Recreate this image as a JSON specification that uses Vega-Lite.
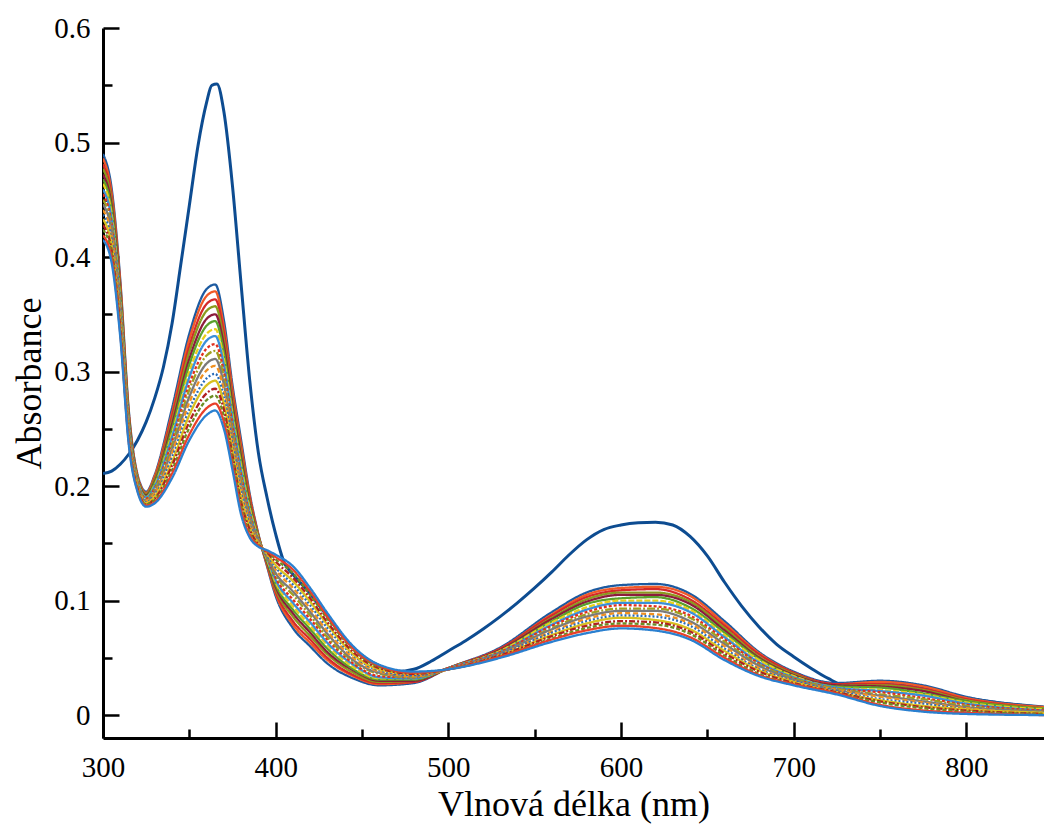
{
"$schema": "https://vega.github.io/schema/vega-lite/v6.json",
"width": 941, "height": 710,
"autosize": {"type": "none"},
"padding": {"left": 103, "top": 28, "right": 0, "bottom": 89},
"background": "white",
"config": {"view": {"stroke": null}, "font": "Liberation Serif"},
"datasets": {
"main": [
{"w":300,"a":0.211},{"w":305,"a":0.213},{"w":310,"a":0.219},{"w":315,"a":0.228},{"w":320,"a":0.240},{"w":325,"a":0.256},{"w":330,"a":0.277},{"w":335,"a":0.304},{"w":340,"a":0.342},{"w":345,"a":0.393},{"w":350,"a":0.445},{"w":355,"a":0.497},{"w":360,"a":0.535},{"w":363,"a":0.550},{"w":366,"a":0.551},{"w":370,"a":0.527},{"w":375,"a":0.462},{"w":380,"a":0.376},{"w":385,"a":0.292},{"w":390,"a":0.229},{"w":395,"a":0.190},{"w":400,"a":0.158},{"w":405,"a":0.133},{"w":410,"a":0.123},{"w":420,"a":0.106},{"w":430,"a":0.086},{"w":440,"a":0.067},{"w":450,"a":0.052},{"w":460,"a":0.043},{"w":470,"a":0.038},{"w":480,"a":0.040},{"w":490,"a":0.047},{"w":500,"a":0.056},{"w":510,"a":0.065},{"w":520,"a":0.075},{"w":530,"a":0.086},{"w":540,"a":0.098},{"w":550,"a":0.111},{"w":560,"a":0.125},{"w":570,"a":0.140},{"w":580,"a":0.153},{"w":590,"a":0.162},{"w":600,"a":0.166},{"w":610,"a":0.168},{"w":620,"a":0.1685},{"w":630,"a":0.166},{"w":640,"a":0.156},{"w":650,"a":0.139},{"w":660,"a":0.116},{"w":670,"a":0.095},{"w":680,"a":0.077},{"w":690,"a":0.062},{"w":700,"a":0.051},{"w":710,"a":0.041},{"w":720,"a":0.032},{"w":730,"a":0.026},{"w":750,"a":0.027},{"w":775,"a":0.024},{"w":800,"a":0.015},{"w":845,"a":0.007}
],
"band": [
{"s":0,"w":300,"a":0.490},{"s":0,"w":305,"a":0.460},{"s":0,"w":310,"a":0.380},{"s":0,"w":315,"a":0.265},{"s":0,"w":320,"a":0.210},{"s":0,"w":325,"a":0.195},{"s":0,"w":330,"a":0.210},{"s":0,"w":340,"a":0.268},{"s":0,"w":350,"a":0.333},{"s":0,"w":360,"a":0.372},{"s":0,"w":365,"a":0.376},{"s":0,"w":370,"a":0.345},{"s":0,"w":375,"a":0.288},{"s":0,"w":380,"a":0.240},{"s":0,"w":385,"a":0.193},{"s":0,"w":390,"a":0.158},{"s":0,"w":395,"a":0.130},{"s":0,"w":400,"a":0.104},{"s":0,"w":410,"a":0.076},{"s":0,"w":420,"a":0.060},{"s":0,"w":430,"a":0.045},{"s":0,"w":445,"a":0.032},{"s":0,"w":460,"a":0.026},{"s":0,"w":480,"a":0.028},{"s":0,"w":500,"a":0.041},{"s":0,"w":530,"a":0.059},{"s":0,"w":560,"a":0.090},{"s":0,"w":580,"a":0.107},{"s":0,"w":600,"a":0.1135},{"s":0,"w":620,"a":0.1145},{"s":0,"w":640,"a":0.106},{"s":0,"w":660,"a":0.082},{"s":0,"w":680,"a":0.055},{"s":0,"w":700,"a":0.038},{"s":0,"w":725,"a":0.028},{"s":0,"w":750,"a":0.030},{"s":0,"w":775,"a":0.026},{"s":0,"w":800,"a":0.016},{"s":0,"w":845,"a":0.007},
{"s":1,"w":300,"a":0.486},{"s":1,"w":305,"a":0.456},{"s":1,"w":310,"a":0.377},{"s":1,"w":315,"a":0.263},{"s":1,"w":320,"a":0.209},{"s":1,"w":325,"a":0.194},{"s":1,"w":330,"a":0.209},{"s":1,"w":340,"a":0.264},{"s":1,"w":350,"a":0.328},{"s":1,"w":360,"a":0.366},{"s":1,"w":365,"a":0.370},{"s":1,"w":370,"a":0.339},{"s":1,"w":375,"a":0.284},{"s":1,"w":380,"a":0.236},{"s":1,"w":385,"a":0.191},{"s":1,"w":390,"a":0.157},{"s":1,"w":395,"a":0.131},{"s":1,"w":400,"a":0.106},{"s":1,"w":410,"a":0.079},{"s":1,"w":420,"a":0.063},{"s":1,"w":430,"a":0.048},{"s":1,"w":445,"a":0.034},{"s":1,"w":460,"a":0.027},{"s":1,"w":480,"a":0.029},{"s":1,"w":500,"a":0.041},{"s":1,"w":530,"a":0.058},{"s":1,"w":560,"a":0.088},{"s":1,"w":580,"a":0.105},{"s":1,"w":600,"a":0.111},{"s":1,"w":620,"a":0.112},{"s":1,"w":640,"a":0.104},{"s":1,"w":660,"a":0.080},{"s":1,"w":680,"a":0.054},{"s":1,"w":700,"a":0.037},{"s":1,"w":725,"a":0.027},{"s":1,"w":750,"a":0.029},{"s":1,"w":775,"a":0.025},{"s":1,"w":800,"a":0.015},{"s":1,"w":845,"a":0.007},
{"s":2,"w":300,"a":0.481},{"s":2,"w":305,"a":0.452},{"s":2,"w":310,"a":0.374},{"s":2,"w":315,"a":0.261},{"s":2,"w":320,"a":0.208},{"s":2,"w":325,"a":0.193},{"s":2,"w":330,"a":0.207},{"s":2,"w":340,"a":0.261},{"s":2,"w":350,"a":0.322},{"s":2,"w":360,"a":0.359},{"s":2,"w":365,"a":0.363},{"s":2,"w":370,"a":0.334},{"s":2,"w":375,"a":0.279},{"s":2,"w":380,"a":0.232},{"s":2,"w":385,"a":0.189},{"s":2,"w":390,"a":0.157},{"s":2,"w":395,"a":0.132},{"s":2,"w":400,"a":0.108},{"s":2,"w":410,"a":0.082},{"s":2,"w":420,"a":0.066},{"s":2,"w":430,"a":0.050},{"s":2,"w":445,"a":0.035},{"s":2,"w":460,"a":0.028},{"s":2,"w":480,"a":0.029},{"s":2,"w":500,"a":0.041},{"s":2,"w":530,"a":0.058},{"s":2,"w":560,"a":0.087},{"s":2,"w":580,"a":0.103},{"s":2,"w":600,"a":0.109},{"s":2,"w":620,"a":0.110},{"s":2,"w":640,"a":0.101},{"s":2,"w":660,"a":0.078},{"s":2,"w":680,"a":0.053},{"s":2,"w":700,"a":0.037},{"s":2,"w":725,"a":0.027},{"s":2,"w":750,"a":0.027},{"s":2,"w":775,"a":0.023},{"s":2,"w":800,"a":0.014},{"s":2,"w":845,"a":0.006},
{"s":3,"w":300,"a":0.477},{"s":3,"w":305,"a":0.449},{"s":3,"w":310,"a":0.371},{"s":3,"w":315,"a":0.260},{"s":3,"w":320,"a":0.207},{"s":3,"w":325,"a":0.193},{"s":3,"w":330,"a":0.206},{"s":3,"w":340,"a":0.257},{"s":3,"w":350,"a":0.317},{"s":3,"w":360,"a":0.353},{"s":3,"w":365,"a":0.357},{"s":3,"w":370,"a":0.328},{"s":3,"w":375,"a":0.275},{"s":3,"w":380,"a":0.229},{"s":3,"w":385,"a":0.186},{"s":3,"w":390,"a":0.156},{"s":3,"w":395,"a":0.133},{"s":3,"w":400,"a":0.110},{"s":3,"w":410,"a":0.086},{"s":3,"w":420,"a":0.069},{"s":3,"w":430,"a":0.053},{"s":3,"w":445,"a":0.037},{"s":3,"w":460,"a":0.029},{"s":3,"w":480,"a":0.030},{"s":3,"w":500,"a":0.041},{"s":3,"w":530,"a":0.057},{"s":3,"w":560,"a":0.085},{"s":3,"w":580,"a":0.101},{"s":3,"w":600,"a":0.107},{"s":3,"w":620,"a":0.107},{"s":3,"w":640,"a":0.099},{"s":3,"w":660,"a":0.076},{"s":3,"w":680,"a":0.051},{"s":3,"w":700,"a":0.036},{"s":3,"w":725,"a":0.026},{"s":3,"w":750,"a":0.026},{"s":3,"w":775,"a":0.022},{"s":3,"w":800,"a":0.013},{"s":3,"w":845,"a":0.006},
{"s":4,"w":300,"a":0.472},{"s":4,"w":305,"a":0.445},{"s":4,"w":310,"a":0.368},{"s":4,"w":315,"a":0.258},{"s":4,"w":320,"a":0.206},{"s":4,"w":325,"a":0.192},{"s":4,"w":330,"a":0.204},{"s":4,"w":340,"a":0.254},{"s":4,"w":350,"a":0.311},{"s":4,"w":360,"a":0.346},{"s":4,"w":365,"a":0.350},{"s":4,"w":370,"a":0.323},{"s":4,"w":375,"a":0.271},{"s":4,"w":380,"a":0.225},{"s":4,"w":385,"a":0.184},{"s":4,"w":390,"a":0.155},{"s":4,"w":395,"a":0.134},{"s":4,"w":400,"a":0.112},{"s":4,"w":410,"a":0.089},{"s":4,"w":420,"a":0.072},{"s":4,"w":430,"a":0.055},{"s":4,"w":445,"a":0.039},{"s":4,"w":460,"a":0.030},{"s":4,"w":480,"a":0.030},{"s":4,"w":500,"a":0.041},{"s":4,"w":530,"a":0.057},{"s":4,"w":560,"a":0.084},{"s":4,"w":580,"a":0.099},{"s":4,"w":600,"a":0.105},{"s":4,"w":620,"a":0.105},{"s":4,"w":640,"a":0.097},{"s":4,"w":660,"a":0.074},{"s":4,"w":680,"a":0.050},{"s":4,"w":700,"a":0.035},{"s":4,"w":725,"a":0.026},{"s":4,"w":750,"a":0.025},{"s":4,"w":775,"a":0.021},{"s":4,"w":800,"a":0.012},{"s":4,"w":845,"a":0.005},
{"s":5,"w":300,"a":0.468},{"s":5,"w":305,"a":0.441},{"s":5,"w":310,"a":0.365},{"s":5,"w":315,"a":0.256},{"s":5,"w":320,"a":0.206},{"s":5,"w":325,"a":0.191},{"s":5,"w":330,"a":0.203},{"s":5,"w":340,"a":0.250},{"s":5,"w":350,"a":0.306},{"s":5,"w":360,"a":0.340},{"s":5,"w":365,"a":0.344},{"s":5,"w":370,"a":0.317},{"s":5,"w":375,"a":0.266},{"s":5,"w":380,"a":0.221},{"s":5,"w":385,"a":0.182},{"s":5,"w":390,"a":0.155},{"s":5,"w":395,"a":0.135},{"s":5,"w":400,"a":0.114},{"s":5,"w":410,"a":0.092},{"s":5,"w":420,"a":0.075},{"s":5,"w":430,"a":0.058},{"s":5,"w":445,"a":0.040},{"s":5,"w":460,"a":0.031},{"s":5,"w":480,"a":0.031},{"s":5,"w":500,"a":0.041},{"s":5,"w":530,"a":0.056},{"s":5,"w":560,"a":0.082},{"s":5,"w":580,"a":0.097},{"s":5,"w":600,"a":0.102},{"s":5,"w":620,"a":0.103},{"s":5,"w":640,"a":0.094},{"s":5,"w":660,"a":0.072},{"s":5,"w":680,"a":0.049},{"s":5,"w":700,"a":0.034},{"s":5,"w":725,"a":0.025},{"s":5,"w":750,"a":0.024},{"s":5,"w":775,"a":0.019},{"s":5,"w":800,"a":0.012},{"s":5,"w":845,"a":0.005},
{"s":6,"w":300,"a":0.464},{"s":6,"w":305,"a":0.437},{"s":6,"w":310,"a":0.362},{"s":6,"w":315,"a":0.254},{"s":6,"w":320,"a":0.205},{"s":6,"w":325,"a":0.190},{"s":6,"w":330,"a":0.201},{"s":6,"w":340,"a":0.246},{"s":6,"w":350,"a":0.300},{"s":6,"w":360,"a":0.333},{"s":6,"w":365,"a":0.337},{"s":6,"w":370,"a":0.311},{"s":6,"w":375,"a":0.262},{"s":6,"w":380,"a":0.217},{"s":6,"w":385,"a":0.180},{"s":6,"w":390,"a":0.154},{"s":6,"w":395,"a":0.136},{"s":6,"w":400,"a":0.116},{"s":6,"w":410,"a":0.095},{"s":6,"w":420,"a":0.078},{"s":6,"w":430,"a":0.061},{"s":6,"w":445,"a":0.042},{"s":6,"w":460,"a":0.032},{"s":6,"w":480,"a":0.032},{"s":6,"w":500,"a":0.041},{"s":6,"w":530,"a":0.056},{"s":6,"w":560,"a":0.081},{"s":6,"w":580,"a":0.094},{"s":6,"w":600,"a":0.100},{"s":6,"w":620,"a":0.100},{"s":6,"w":640,"a":0.092},{"s":6,"w":660,"a":0.070},{"s":6,"w":680,"a":0.048},{"s":6,"w":700,"a":0.034},{"s":6,"w":725,"a":0.024},{"s":6,"w":750,"a":0.022},{"s":6,"w":775,"a":0.018},{"s":6,"w":800,"a":0.011},{"s":6,"w":845,"a":0.005},
{"s":7,"w":300,"a":0.459},{"s":7,"w":305,"a":0.433},{"s":7,"w":310,"a":0.359},{"s":7,"w":315,"a":0.253},{"s":7,"w":320,"a":0.204},{"s":7,"w":325,"a":0.190},{"s":7,"w":330,"a":0.200},{"s":7,"w":340,"a":0.243},{"s":7,"w":350,"a":0.295},{"s":7,"w":360,"a":0.327},{"s":7,"w":365,"a":0.331},{"s":7,"w":370,"a":0.306},{"s":7,"w":375,"a":0.258},{"s":7,"w":380,"a":0.213},{"s":7,"w":385,"a":0.177},{"s":7,"w":390,"a":0.153},{"s":7,"w":395,"a":0.137},{"s":7,"w":400,"a":0.118},{"s":7,"w":410,"a":0.098},{"s":7,"w":420,"a":0.081},{"s":7,"w":430,"a":0.063},{"s":7,"w":445,"a":0.044},{"s":7,"w":460,"a":0.033},{"s":7,"w":480,"a":0.032},{"s":7,"w":500,"a":0.041},{"s":7,"w":530,"a":0.055},{"s":7,"w":560,"a":0.079},{"s":7,"w":580,"a":0.092},{"s":7,"w":600,"a":0.098},{"s":7,"w":620,"a":0.098},{"s":7,"w":640,"a":0.090},{"s":7,"w":660,"a":0.068},{"s":7,"w":680,"a":0.046},{"s":7,"w":700,"a":0.033},{"s":7,"w":725,"a":0.024},{"s":7,"w":750,"a":0.021},{"s":7,"w":775,"a":0.017},{"s":7,"w":800,"a":0.010},{"s":7,"w":845,"a":0.004},
{"s":8,"w":300,"a":0.455},{"s":8,"w":305,"a":0.429},{"s":8,"w":310,"a":0.356},{"s":8,"w":315,"a":0.251},{"s":8,"w":320,"a":0.203},{"s":8,"w":325,"a":0.189},{"s":8,"w":330,"a":0.198},{"s":8,"w":340,"a":0.239},{"s":8,"w":350,"a":0.289},{"s":8,"w":360,"a":0.320},{"s":8,"w":365,"a":0.324},{"s":8,"w":370,"a":0.300},{"s":8,"w":375,"a":0.253},{"s":8,"w":380,"a":0.209},{"s":8,"w":385,"a":0.175},{"s":8,"w":390,"a":0.153},{"s":8,"w":395,"a":0.138},{"s":8,"w":400,"a":0.120},{"s":8,"w":410,"a":0.101},{"s":8,"w":420,"a":0.084},{"s":8,"w":430,"a":0.066},{"s":8,"w":445,"a":0.045},{"s":8,"w":460,"a":0.034},{"s":8,"w":480,"a":0.033},{"s":8,"w":500,"a":0.041},{"s":8,"w":530,"a":0.055},{"s":8,"w":560,"a":0.078},{"s":8,"w":580,"a":0.090},{"s":8,"w":600,"a":0.096},{"s":8,"w":620,"a":0.095},{"s":8,"w":640,"a":0.087},{"s":8,"w":660,"a":0.066},{"s":8,"w":680,"a":0.045},{"s":8,"w":700,"a":0.032},{"s":8,"w":725,"a":0.023},{"s":8,"w":750,"a":0.020},{"s":8,"w":775,"a":0.015},{"s":8,"w":800,"a":0.009},{"s":8,"w":845,"a":0.004},
{"s":9,"w":300,"a":0.450},{"s":9,"w":305,"a":0.426},{"s":9,"w":310,"a":0.354},{"s":9,"w":315,"a":0.249},{"s":9,"w":320,"a":0.202},{"s":9,"w":325,"a":0.188},{"s":9,"w":330,"a":0.197},{"s":9,"w":340,"a":0.236},{"s":9,"w":350,"a":0.284},{"s":9,"w":360,"a":0.314},{"s":9,"w":365,"a":0.318},{"s":9,"w":370,"a":0.295},{"s":9,"w":375,"a":0.249},{"s":9,"w":380,"a":0.206},{"s":9,"w":385,"a":0.173},{"s":9,"w":390,"a":0.152},{"s":9,"w":395,"a":0.138},{"s":9,"w":400,"a":0.122},{"s":9,"w":410,"a":0.105},{"s":9,"w":420,"a":0.087},{"s":9,"w":430,"a":0.068},{"s":9,"w":445,"a":0.047},{"s":9,"w":460,"a":0.036},{"s":9,"w":480,"a":0.033},{"s":9,"w":500,"a":0.040},{"s":9,"w":530,"a":0.054},{"s":9,"w":560,"a":0.076},{"s":9,"w":580,"a":0.088},{"s":9,"w":600,"a":0.093},{"s":9,"w":620,"a":0.093},{"s":9,"w":640,"a":0.085},{"s":9,"w":660,"a":0.064},{"s":9,"w":680,"a":0.044},{"s":9,"w":700,"a":0.032},{"s":9,"w":725,"a":0.023},{"s":9,"w":750,"a":0.018},{"s":9,"w":775,"a":0.014},{"s":9,"w":800,"a":0.008},{"s":9,"w":845,"a":0.003},
{"s":10,"w":300,"a":0.446},{"s":10,"w":305,"a":0.422},{"s":10,"w":310,"a":0.351},{"s":10,"w":315,"a":0.247},{"s":10,"w":320,"a":0.201},{"s":10,"w":325,"a":0.187},{"s":10,"w":330,"a":0.195},{"s":10,"w":340,"a":0.232},{"s":10,"w":350,"a":0.278},{"s":10,"w":360,"a":0.307},{"s":10,"w":365,"a":0.311},{"s":10,"w":370,"a":0.289},{"s":10,"w":375,"a":0.244},{"s":10,"w":380,"a":0.202},{"s":10,"w":385,"a":0.171},{"s":10,"w":390,"a":0.152},{"s":10,"w":395,"a":0.139},{"s":10,"w":400,"a":0.124},{"s":10,"w":410,"a":0.108},{"s":10,"w":420,"a":0.090},{"s":10,"w":430,"a":0.071},{"s":10,"w":445,"a":0.048},{"s":10,"w":460,"a":0.037},{"s":10,"w":480,"a":0.034},{"s":10,"w":500,"a":0.040},{"s":10,"w":530,"a":0.054},{"s":10,"w":560,"a":0.075},{"s":10,"w":580,"a":0.086},{"s":10,"w":600,"a":0.091},{"s":10,"w":620,"a":0.091},{"s":10,"w":640,"a":0.082},{"s":10,"w":660,"a":0.062},{"s":10,"w":680,"a":0.043},{"s":10,"w":700,"a":0.031},{"s":10,"w":725,"a":0.022},{"s":10,"w":750,"a":0.017},{"s":10,"w":775,"a":0.012},{"s":10,"w":800,"a":0.007},{"s":10,"w":845,"a":0.003},
{"s":11,"w":300,"a":0.441},{"s":11,"w":305,"a":0.418},{"s":11,"w":310,"a":0.348},{"s":11,"w":315,"a":0.246},{"s":11,"w":320,"a":0.200},{"s":11,"w":325,"a":0.187},{"s":11,"w":330,"a":0.194},{"s":11,"w":340,"a":0.229},{"s":11,"w":350,"a":0.273},{"s":11,"w":360,"a":0.301},{"s":11,"w":365,"a":0.305},{"s":11,"w":370,"a":0.284},{"s":11,"w":375,"a":0.240},{"s":11,"w":380,"a":0.198},{"s":11,"w":385,"a":0.168},{"s":11,"w":390,"a":0.151},{"s":11,"w":395,"a":0.140},{"s":11,"w":400,"a":0.127},{"s":11,"w":410,"a":0.111},{"s":11,"w":420,"a":0.093},{"s":11,"w":430,"a":0.073},{"s":11,"w":445,"a":0.050},{"s":11,"w":460,"a":0.038},{"s":11,"w":480,"a":0.034},{"s":11,"w":500,"a":0.040},{"s":11,"w":530,"a":0.053},{"s":11,"w":560,"a":0.073},{"s":11,"w":580,"a":0.084},{"s":11,"w":600,"a":0.089},{"s":11,"w":620,"a":0.088},{"s":11,"w":640,"a":0.080},{"s":11,"w":660,"a":0.060},{"s":11,"w":680,"a":0.041},{"s":11,"w":700,"a":0.030},{"s":11,"w":725,"a":0.022},{"s":11,"w":750,"a":0.016},{"s":11,"w":775,"a":0.011},{"s":11,"w":800,"a":0.006},{"s":11,"w":845,"a":0.002},
{"s":12,"w":300,"a":0.437},{"s":12,"w":305,"a":0.414},{"s":12,"w":310,"a":0.345},{"s":12,"w":315,"a":0.244},{"s":12,"w":320,"a":0.199},{"s":12,"w":325,"a":0.186},{"s":12,"w":330,"a":0.192},{"s":12,"w":340,"a":0.225},{"s":12,"w":350,"a":0.267},{"s":12,"w":360,"a":0.294},{"s":12,"w":365,"a":0.298},{"s":12,"w":370,"a":0.278},{"s":12,"w":375,"a":0.236},{"s":12,"w":380,"a":0.194},{"s":12,"w":385,"a":0.166},{"s":12,"w":390,"a":0.150},{"s":12,"w":395,"a":0.140},{"s":12,"w":400,"a":0.129},{"s":12,"w":410,"a":0.114},{"s":12,"w":420,"a":0.096},{"s":12,"w":430,"a":0.076},{"s":12,"w":445,"a":0.052},{"s":12,"w":460,"a":0.039},{"s":12,"w":480,"a":0.035},{"s":12,"w":500,"a":0.040},{"s":12,"w":530,"a":0.053},{"s":12,"w":560,"a":0.072},{"s":12,"w":580,"a":0.082},{"s":12,"w":600,"a":0.087},{"s":12,"w":620,"a":0.086},{"s":12,"w":640,"a":0.078},{"s":12,"w":660,"a":0.058},{"s":12,"w":680,"a":0.040},{"s":12,"w":700,"a":0.030},{"s":12,"w":725,"a":0.021},{"s":12,"w":750,"a":0.014},{"s":12,"w":775,"a":0.010},{"s":12,"w":800,"a":0.005},{"s":12,"w":845,"a":0.002},
{"s":13,"w":300,"a":0.433},{"s":13,"w":305,"a":0.410},{"s":13,"w":310,"a":0.342},{"s":13,"w":315,"a":0.242},{"s":13,"w":320,"a":0.199},{"s":13,"w":325,"a":0.185},{"s":13,"w":330,"a":0.191},{"s":13,"w":340,"a":0.221},{"s":13,"w":350,"a":0.262},{"s":13,"w":360,"a":0.288},{"s":13,"w":365,"a":0.292},{"s":13,"w":370,"a":0.272},{"s":13,"w":375,"a":0.231},{"s":13,"w":380,"a":0.190},{"s":13,"w":385,"a":0.164},{"s":13,"w":390,"a":0.150},{"s":13,"w":395,"a":0.141},{"s":13,"w":400,"a":0.131},{"s":13,"w":410,"a":0.117},{"s":13,"w":420,"a":0.099},{"s":13,"w":430,"a":0.079},{"s":13,"w":445,"a":0.053},{"s":13,"w":460,"a":0.040},{"s":13,"w":480,"a":0.036},{"s":13,"w":500,"a":0.040},{"s":13,"w":530,"a":0.052},{"s":13,"w":560,"a":0.070},{"s":13,"w":580,"a":0.080},{"s":13,"w":600,"a":0.085},{"s":13,"w":620,"a":0.083},{"s":13,"w":640,"a":0.075},{"s":13,"w":660,"a":0.056},{"s":13,"w":680,"a":0.039},{"s":13,"w":700,"a":0.029},{"s":13,"w":725,"a":0.020},{"s":13,"w":750,"a":0.013},{"s":13,"w":775,"a":0.008},{"s":13,"w":800,"a":0.005},{"s":13,"w":845,"a":0.002},
{"s":14,"w":300,"a":0.428},{"s":14,"w":305,"a":0.406},{"s":14,"w":310,"a":0.339},{"s":14,"w":315,"a":0.240},{"s":14,"w":320,"a":0.198},{"s":14,"w":325,"a":0.184},{"s":14,"w":330,"a":0.189},{"s":14,"w":340,"a":0.218},{"s":14,"w":350,"a":0.256},{"s":14,"w":360,"a":0.281},{"s":14,"w":365,"a":0.285},{"s":14,"w":370,"a":0.267},{"s":14,"w":375,"a":0.227},{"s":14,"w":380,"a":0.186},{"s":14,"w":385,"a":0.162},{"s":14,"w":390,"a":0.149},{"s":14,"w":395,"a":0.142},{"s":14,"w":400,"a":0.134},{"s":14,"w":410,"a":0.120},{"s":14,"w":420,"a":0.102},{"s":14,"w":430,"a":0.081},{"s":14,"w":445,"a":0.055},{"s":14,"w":460,"a":0.041},{"s":14,"w":480,"a":0.036},{"s":14,"w":500,"a":0.040},{"s":14,"w":530,"a":0.052},{"s":14,"w":560,"a":0.069},{"s":14,"w":580,"a":0.078},{"s":14,"w":600,"a":0.082},{"s":14,"w":620,"a":0.081},{"s":14,"w":640,"a":0.073},{"s":14,"w":660,"a":0.054},{"s":14,"w":680,"a":0.038},{"s":14,"w":700,"a":0.028},{"s":14,"w":725,"a":0.020},{"s":14,"w":750,"a":0.012},{"s":14,"w":775,"a":0.007},{"s":14,"w":800,"a":0.004},{"s":14,"w":845,"a":0.001},
{"s":15,"w":300,"a":0.424},{"s":15,"w":305,"a":0.403},{"s":15,"w":310,"a":0.336},{"s":15,"w":315,"a":0.239},{"s":15,"w":320,"a":0.197},{"s":15,"w":325,"a":0.184},{"s":15,"w":330,"a":0.188},{"s":15,"w":340,"a":0.214},{"s":15,"w":350,"a":0.251},{"s":15,"w":360,"a":0.275},{"s":15,"w":365,"a":0.279},{"s":15,"w":370,"a":0.261},{"s":15,"w":375,"a":0.223},{"s":15,"w":380,"a":0.183},{"s":15,"w":385,"a":0.159},{"s":15,"w":390,"a":0.148},{"s":15,"w":395,"a":0.143},{"s":15,"w":400,"a":0.136},{"s":15,"w":410,"a":0.124},{"s":15,"w":420,"a":0.105},{"s":15,"w":430,"a":0.084},{"s":15,"w":445,"a":0.057},{"s":15,"w":460,"a":0.042},{"s":15,"w":480,"a":0.037},{"s":15,"w":500,"a":0.040},{"s":15,"w":530,"a":0.051},{"s":15,"w":560,"a":0.067},{"s":15,"w":580,"a":0.076},{"s":15,"w":600,"a":0.080},{"s":15,"w":620,"a":0.079},{"s":15,"w":640,"a":0.071},{"s":15,"w":660,"a":0.052},{"s":15,"w":680,"a":0.036},{"s":15,"w":700,"a":0.027},{"s":15,"w":725,"a":0.019},{"s":15,"w":750,"a":0.011},{"s":15,"w":775,"a":0.006},{"s":15,"w":800,"a":0.003},{"s":15,"w":845,"a":0.001},
{"s":16,"w":300,"a":0.419},{"s":16,"w":305,"a":0.399},{"s":16,"w":310,"a":0.333},{"s":16,"w":315,"a":0.237},{"s":16,"w":320,"a":0.196},{"s":16,"w":325,"a":0.183},{"s":16,"w":330,"a":0.186},{"s":16,"w":340,"a":0.211},{"s":16,"w":350,"a":0.245},{"s":16,"w":360,"a":0.268},{"s":16,"w":365,"a":0.272},{"s":16,"w":370,"a":0.256},{"s":16,"w":375,"a":0.218},{"s":16,"w":380,"a":0.179},{"s":16,"w":385,"a":0.157},{"s":16,"w":390,"a":0.148},{"s":16,"w":395,"a":0.143},{"s":16,"w":400,"a":0.138},{"s":16,"w":410,"a":0.127},{"s":16,"w":420,"a":0.108},{"s":16,"w":430,"a":0.086},{"s":16,"w":445,"a":0.058},{"s":16,"w":460,"a":0.043},{"s":16,"w":480,"a":0.037},{"s":16,"w":500,"a":0.040},{"s":16,"w":530,"a":0.051},{"s":16,"w":560,"a":0.066},{"s":16,"w":580,"a":0.074},{"s":16,"w":600,"a":0.078},{"s":16,"w":620,"a":0.076},{"s":16,"w":640,"a":0.068},{"s":16,"w":660,"a":0.050},{"s":16,"w":680,"a":0.035},{"s":16,"w":700,"a":0.027},{"s":16,"w":725,"a":0.019},{"s":16,"w":750,"a":0.009},{"s":16,"w":775,"a":0.004},{"s":16,"w":800,"a":0.002},{"s":16,"w":845,"a":0.000},
{"s":17,"w":300,"a":0.415},{"s":17,"w":305,"a":0.395},{"s":17,"w":310,"a":0.330},{"s":17,"w":315,"a":0.235},{"s":17,"w":320,"a":0.195},{"s":17,"w":325,"a":0.182},{"s":17,"w":330,"a":0.185},{"s":17,"w":340,"a":0.207},{"s":17,"w":350,"a":0.240},{"s":17,"w":360,"a":0.262},{"s":17,"w":365,"a":0.266},{"s":17,"w":370,"a":0.250},{"s":17,"w":375,"a":0.214},{"s":17,"w":380,"a":0.175},{"s":17,"w":385,"a":0.155},{"s":17,"w":390,"a":0.147},{"s":17,"w":395,"a":0.144},{"s":17,"w":400,"a":0.140},{"s":17,"w":410,"a":0.130},{"s":17,"w":420,"a":0.111},{"s":17,"w":430,"a":0.089},{"s":17,"w":445,"a":0.060},{"s":17,"w":460,"a":0.044},{"s":17,"w":480,"a":0.038},{"s":17,"w":500,"a":0.040},{"s":17,"w":530,"a":0.050},{"s":17,"w":560,"a":0.064},{"s":17,"w":580,"a":0.0715},{"s":17,"w":600,"a":0.0757},{"s":17,"w":620,"a":0.0738},{"s":17,"w":640,"a":0.066},{"s":17,"w":660,"a":0.048},{"s":17,"w":680,"a":0.034},{"s":17,"w":700,"a":0.026},{"s":17,"w":725,"a":0.018},{"s":17,"w":750,"a":0.008},{"s":17,"w":775,"a":0.003},{"s":17,"w":800,"a":0.001},{"s":17,"w":845,"a":0.000}
]
},
"layer": [
{
"data": {"name": "main"},
"mark": {"type": "line", "interpolate": "monotone", "color": "#0d4c91", "strokeWidth": 3, "clip": true},
"encoding": {
"x": {"field": "w", "type": "quantitative", "scale": {"domain": [300, 845], "nice": false, "zero": false},
"axis": {"orient": "bottom", "values": [300, 400, 500, 600, 700, 800], "tickSize": -16, "tickWidth": 2.5, "tickColor": "black", "domainColor": "black", "domainWidth": 3, "grid": false, "labelFont": "Liberation Serif", "labelFontSize": 29, "labelColor": "black", "labelPadding": 31, "labelFlush": false, "title": "Vlnová délka (nm)", "titleFont": "Liberation Serif", "titleFontSize": 36, "titleFontWeight": "normal", "titleColor": "black", "titlePadding": 5}},
"y": {"field": "a", "type": "quantitative", "scale": {"domain": [-0.02, 0.6], "nice": false, "zero": false},
"axis": {"orient": "left", "values": [0, 0.1, 0.2, 0.3, 0.4, 0.5, 0.6], "format": ".1~f", "tickSize": -16, "tickWidth": 2.5, "tickColor": "black", "domainColor": "black", "domainWidth": 3, "grid": false, "labelFont": "Liberation Serif", "labelFontSize": 29, "labelColor": "black", "labelPadding": 29, "labelFlush": false, "title": "Absorbance", "titleFont": "Liberation Serif", "titleFontSize": 36, "titleFontWeight": "normal", "titleColor": "black", "titlePadding": 5}}
}
},
{
"data": {"name": "band"},
"mark": {"type": "line", "interpolate": "monotone", "strokeWidth": 2.3, "clip": true},
"encoding": {
"x": {"field": "w", "type": "quantitative", "axis": {"orient": "bottom", "values": [350, 450, 550, 650, 750], "tickSize": -9, "tickWidth": 2.5, "tickColor": "black", "domain": false, "labels": false, "grid": false, "title": null}},
"y": {"field": "a", "type": "quantitative", "axis": {"orient": "left", "values": [0.05, 0.15, 0.25, 0.35, 0.45, 0.55], "tickSize": -9, "tickWidth": 2.5, "tickColor": "black", "domain": false, "labels": false, "grid": false, "title": null}},
"color": {"field": "s", "type": "nominal", "legend": null, "scale": {"domain": [0,1,2,3,4,5,6,7,8,9,10,11,12,13,14,15,16,17], "range": ["#1c5aa0","#f05a28","#d42a2a","#8a9a1e","#8c1c3c","#5aa02c","#e8cf1a","#3a8fd8","#e03020","#a0a020","#7a7a7a","#f09020","#2b6cb8","#d8c020","#b02020","#6b8e23","#e8402a","#2a80d0"]}},
"strokeDash": {"field": "s", "type": "nominal", "legend": null, "scale": {"domain": [0,1,2,3,4,5,6,7,8,9,10,11,12,13,14,15,16,17], "range": [[1,0],[1,0],[1,0],[1,0],[1,0],[1,0],[6,2],[1,0],[3,2],[8,2,2,2],[1,0],[5,3],[2,2],[1,0],[6,2,2,2],[4,2],[1,0],[1,0]]}}
}
}
],
"resolve": {"axis": {"x": "independent", "y": "independent"}}
}
